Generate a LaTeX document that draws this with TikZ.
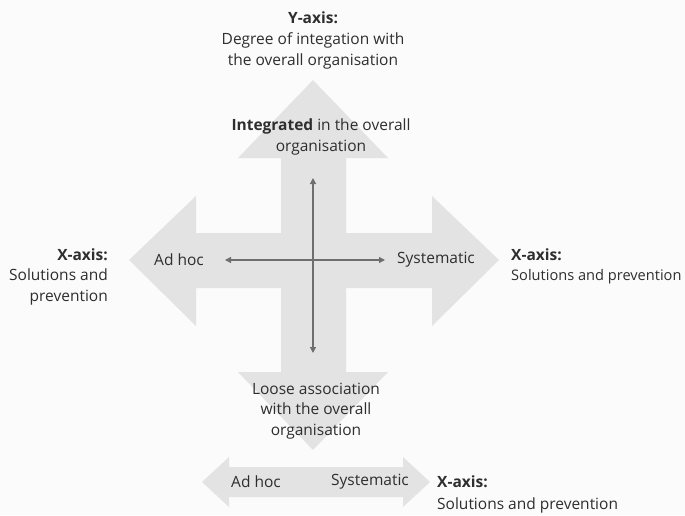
\documentclass[tikz,border=0pt]{standalone}
\usepackage{fontspec}
\setmainfont{Open Sans}
\usetikzlibrary{arrows.meta}
\definecolor{bgc}{HTML}{FBFBFB}
\definecolor{arrowfill}{HTML}{E3E3E3}
\definecolor{txt}{HTML}{2E2E2E}
\definecolor{axisline}{HTML}{6E6E6E}
\begin{document}
\begin{tikzpicture}[x=1pt,y=-1pt,
  lbl/.style={font=\fontsize{15.5}{20.5}\selectfont, text=txt, inner sep=0pt, align=center},
  bigarrow/.style={fill=arrowfill, draw=none},
  thinaxis/.style={draw=axisline, line width=1.2pt, {Triangle[length=6pt,width=6pt]}-{Triangle[length=6pt,width=6pt]}}]
\fill[bgc] (0,0) rectangle (685,515);
\useasboundingbox (0,0) rectangle (685,515);
% big cross arrow
\path[bigarrow] (313,80) -- (388,158) -- (346,158) -- (346,233) -- (432,233) -- (432,196) -- (499,260)
  -- (432,326) -- (432,288) -- (346,288) -- (346,372) -- (388,372) -- (313,450) -- (238,372)
  -- (281,372) -- (281,288) -- (196,288) -- (196,326) -- (129,260) -- (196,196) -- (196,233)
  -- (281,233) -- (281,158) -- (238,158) -- cycle;
% bottom double arrow
\path[bigarrow] (202,482) -- (229,457) -- (229,467) -- (403,467) -- (403,457) -- (430,482)
  -- (403,507) -- (403,497) -- (229,497) -- (229,507) -- cycle;
% thin axes
\coordinate (ytop) at (313,178);
\coordinate (ybot) at (313,353);
\coordinate (xl) at (225,260);
\coordinate (xr) at (385,260);
\draw[thinaxis] (ytop) -- (ybot);
\draw[thinaxis] (xl) -- (xr);
% texts
\node[lbl] (ytitle) at (313,18) {\bfseries Y-axis:};
\node[lbl] (ydesc) at (313,51) {Degree of integation with\\the overall organisation};
\node[lbl] (integ) at (321,137) {\textbf{Integrated} in the overall\\organisation};
\node[lbl] (adhoc) at (179,260) {Ad hoc};
\node[lbl] (syst) at (436,260) {Systematic};
\node[lbl, anchor=west] (rxt) at (511,255) {\bfseries X-axis:};
\node[lbl, anchor=west, font=\fontsize{14.6}{20}\selectfont] (rxd) at (511,277) {Solutions and prevention};
\node[lbl, anchor=east] (lxt) at (108,255) {\bfseries X-axis:};
\node[lbl, anchor=east, align=right] (lxd) at (108,287) {Solutions and\\prevention};
\node[lbl] (loose) at (316,411) {Loose association\\with the overall\\organisation};
\node[lbl] (badhoc) at (256,482) {Ad hoc};
\node[lbl] (bsyst) at (370,482) {Systematic};
\node[lbl, anchor=west] (bxt) at (437,482) {\bfseries X-axis:};
\node[lbl, anchor=west] (bxd) at (437,505) {Solutions and prevention};
\end{tikzpicture}
\end{document}
